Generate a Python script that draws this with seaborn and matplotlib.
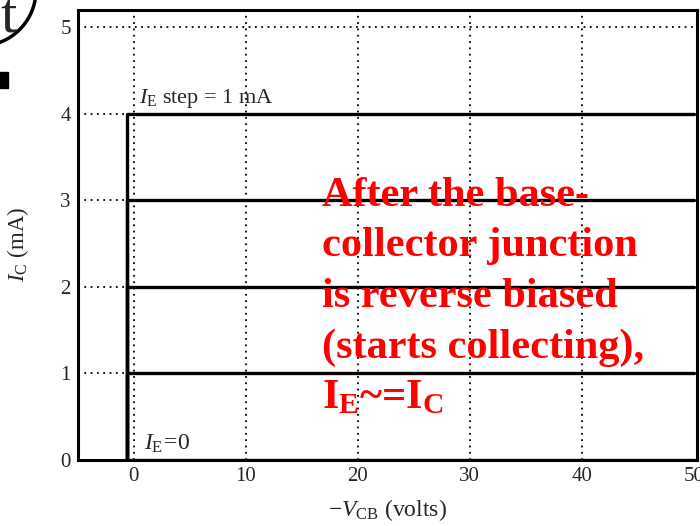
import numpy as np
import pandas as pd
import seaborn as sns
import matplotlib.pyplot as plt
from matplotlib.lines import Line2D
from matplotlib.patches import Rectangle

# emitter current steps (mA) and where each curve turns on (volts)
emitter_currents = [0, 1, 2, 3, 4]
knee_voltage = -0.6
max_voltage = 50
x_ticks = [0, 10, 20, 30, 40, 50]
y_ticks = [0, 1, 2, 3, 4, 5]

sns.set_style("white")
plt.rcParams['font.family'] = ['Liberation Serif', 'DejaVu Serif']
plt.rcParams['mathtext.fontset'] = 'custom'
plt.rcParams['mathtext.rm'] = 'Liberation Serif'
plt.rcParams['mathtext.it'] = 'Liberation Serif:italic'
plt.rcParams['mathtext.bf'] = 'Liberation Serif:bold'

# build the step-shaped curves: vertical at the knee, then flat
rows = []
for ie in emitter_currents:
    rows.append({'ie': ie, 'order': 0, 'vcb': knee_voltage, 'ic': 0})
    rows.append({'ie': ie, 'order': 1, 'vcb': knee_voltage, 'ic': ie})
    rows.append({'ie': ie, 'order': 2, 'vcb': max_voltage, 'ic': ie})
curves = pd.DataFrame(rows)

fig = plt.figure(figsize=(7, 5.26), dpi=100)
ax = fig.add_axes([0.111, 0.1255, 0.885, 0.8555])

# dotted grid
for xv in x_ticks[:-1]:
    ax.axvline(xv, color='black', linestyle=(0, (1, 2.5)), linewidth=1.3, zorder=1)
for yv in y_ticks[1:]:
    ax.axhline(yv, color='black', linestyle=(0, (1, 2.5)), linewidth=1.3, zorder=1)

sns.lineplot(data=curves, x='vcb', y='ic', units='ie', estimator=None,
             sort=False, color='black', linewidth=2.4, ax=ax, zorder=3)

ax.set_xlim(-5, 50.3)
ax.set_ylim(0, 5.2)
ax.set_xticks(x_ticks)
ax.set_yticks(y_ticks)
ax.tick_params(axis='both', length=0, labelsize=15, pad=5)
for s in ax.spines.values():
    s.set_linewidth(2.2)
    s.set_color('black')
ax.set_xlabel(r'$-V_{\rm CB}$ (volts)', fontsize=17, labelpad=8)
ax.set_ylabel(r'$I_{\rm C}$ (mA)', fontsize=16.5)
ax.yaxis.set_label_coords(-0.076, 0.478)

ax.text(0.5, 4.13, r'$I_{\rm E}$ step = 1 mA', fontsize=16, zorder=4)
ax.text(0.9, 0.12, r'$I_{\rm E}\!=\!0$', fontsize=17, zorder=4)

note = ("After the base-\ncollector junction\nis reverse biased\n"
        "(starts collecting),\nI$_\\mathbf{E}$~=I$_\\mathbf{C}$")
ax.text(16.85, 3.27, note, color='red', fontsize=30.5, fontweight='bold',
        va='top', ha='left', linespacing=1.43, zorder=5)

# scan leftovers in the corner
fig.text(0.0, 0.965, 't', fontsize=42, ha='left', va='center')
theta = np.linspace(0.05, 1.45, 40)
fig.add_artist(Line2D((-20 + 56 * np.cos(theta)) / 700,
                      1 - (-10 + 56 * np.sin(theta)) / 526,
                      color='black', linewidth=2.5))
fig.add_artist(Rectangle((0, 1 - 88 / 526), 8 / 700, 16 / 526,
                         color='black', transform=fig.transFigure))

fig.savefig('out.png', dpi=100)
